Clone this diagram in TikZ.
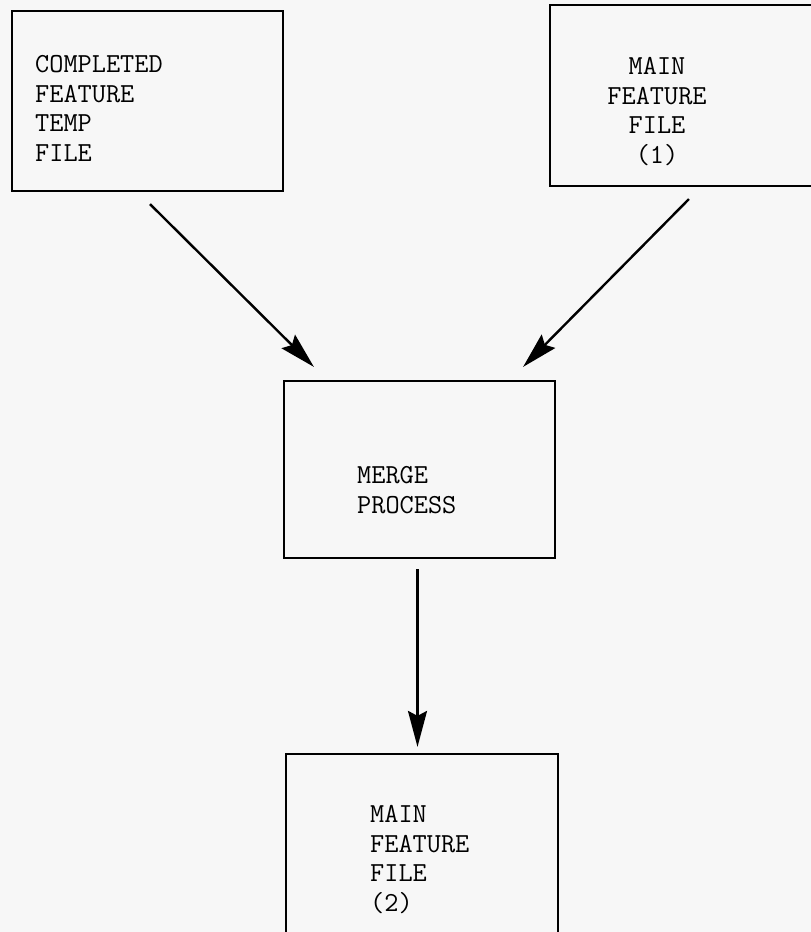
\documentclass[tikz,border=0pt]{standalone}
\usepackage{fontspec}
\usetikzlibrary{arrows.meta}

\begin{document}
\begin{tikzpicture}[x=1pt, y=-1pt,
  filebox/.style={draw, line width=2.2pt, inner sep=0pt},
  typed/.style={font=\ttfamily\fontsize{27.5}{29.7}\selectfont, inner sep=0pt},
  flow/.style={line width=2.4pt, -{Stealth[length=36pt,width=19pt,inset=5pt]}}]
\path[use as bounding box, fill=black!3] (0,0) rectangle (811,932);

% the two input files
\node[filebox, minimum width=271pt, minimum height=180pt] (temp) at (147.5,101) {};
\node[typed, anchor=north west, align=left] (temptext) at (35,55)
  {COMPLETED\\FEATURE\\TEMP\\FILE};
\node[filebox, draw=none, minimum width=260pt, minimum height=179pt] (mainone) at (681,95.5) {};
\draw[line width=2.2pt]
     (mainone.north east)
  -- (mainone.north west)
  -- (mainone.south west)
  -- (mainone.south east);
\node[typed, anchor=north, align=center] (mainonetext) at (657,57)
  {MAIN\\FEATURE\\FILE\\(1)};

% merge step
\node[filebox, minimum width=271pt, minimum height=177pt] (merge) at (419.5,469.5) {};
\node[typed, anchor=north west, align=left] (mergetext) at (357,466)
  {MERGE\\PROCESS};

% output file, runs off the page
\node[filebox, draw=none, minimum width=270pt, minimum height=177pt] (maintwo) at (422,843.5) {};
\draw[line width=2.2pt]
     (maintwo.south west)
  -- (maintwo.north west)
  -- (maintwo.north east)
  -- (maintwo.south east);
\node[typed, anchor=north west, align=left] (maintwotext) at (370,805)
  {MAIN\\FEATURE\\FILE\\(2)};

\draw[flow] ([xshift=2.5pt,yshift=-12pt]temp.south) -- ([xshift=31pt,yshift=13pt]merge.north west);
\draw[flow] ([xshift=139pt,yshift=-13pt]mainone.south west) -- ([xshift=-33pt,yshift=13pt]merge.north east);
\draw[flow] ([xshift=-2pt,yshift=-10pt]merge.south) -- ([xshift=-2pt,yshift=7pt]merge.south |- maintwo.north);
\end{tikzpicture}
\end{document}
